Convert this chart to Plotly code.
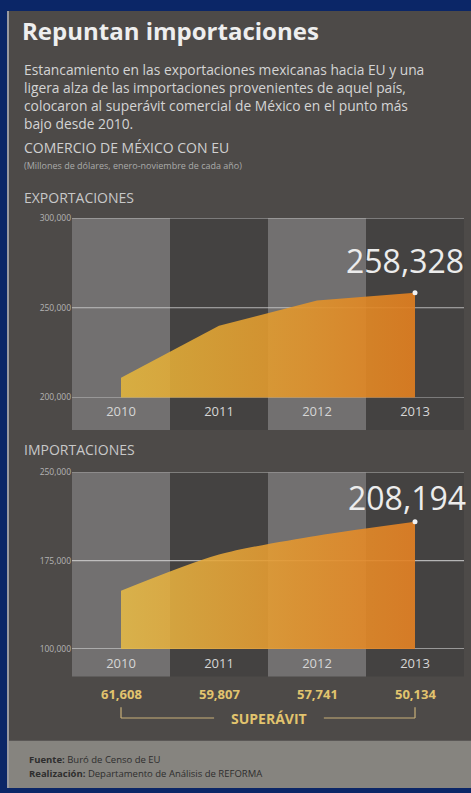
import plotly.graph_objects as go

W, H = 471, 793

years = ["2010", "2011", "2012", "2013"]
exportaciones = [211000, 240000, 254000, 258328]
importaciones = [149392, 180193, 196259, 208194]
superavit = [61608, 59807, 57741, 50134]
exp_ticks = [200000, 250000, 300000]
imp_ticks = [100000, 175000, 250000]

title = "Repuntan importaciones"
body = [
    "Estancamiento en las exportaciones mexicanas hacia EU y una",
    "ligera alza de las importaciones provenientes de aquel país,",
    "colocaron al superávit comercial de México en el punto más",
    "bajo desde 2010.",
]
subtitle = "COMERCIO DE MÉXICO CON EU"
units = "(Millones de dólares, enero-noviembre de cada año)"


def px(x):
    return x / W


def py(y):
    return 1 - y / H


FONT = "Open Sans"
BG = "#4d4a48"
xs = list(range(len(years)))

fig = go.Figure()

grad_exp = dict(type="horizontal",
                colorscale=[[0, "rgba(228,182,60,0.88)"], [0.6, "rgba(226,150,44,0.9)"],
                            [1, "rgba(224,126,32,0.92)"]])
grad_imp = dict(type="horizontal",
                colorscale=[[0, "rgba(230,186,70,0.88)"], [0.6, "rgba(228,150,46,0.9)"],
                            [1, "rgba(226,128,36,0.92)"]])

fig.add_trace(go.Scatter(x=xs, y=exportaciones, mode="lines", fill="tozeroy",
                         line=dict(width=0, color="rgba(0,0,0,0)"),
                         fillgradient=grad_exp, xaxis="x", yaxis="y",
                         hoverinfo="skip", showlegend=False))
fig.add_trace(go.Scatter(x=[xs[-1]], y=[exportaciones[-1]], mode="markers",
                         marker=dict(size=5, color="#f2f2f2"), xaxis="x", yaxis="y",
                         showlegend=False))
fig.add_trace(go.Scatter(x=xs, y=importaciones, mode="lines", fill="tozeroy",
                         line=dict(width=0, color="rgba(0,0,0,0)", shape="spline", smoothing=0.8),
                         fillgradient=grad_imp, xaxis="x2", yaxis="y2",
                         hoverinfo="skip", showlegend=False))
fig.add_trace(go.Scatter(x=[xs[-1]], y=[importaciones[-1]], mode="markers",
                         marker=dict(size=5, color="#f2f2f2"), xaxis="x2", yaxis="y2",
                         showlegend=False))

shapes = []
# blue frame and panel
shapes.append(dict(type="rect", xref="paper", yref="paper", x0=px(9), x1=1, y0=0, y1=py(5),
                   fillcolor=BG, line=dict(width=0), layer="below"))
shapes.append(dict(type="rect", xref="paper", yref="paper", x0=px(7), x1=px(9), y0=0, y1=py(5),
                   fillcolor="#9a9aa0", line=dict(width=0), layer="below"))
# footer
shapes.append(dict(type="rect", xref="paper", yref="paper", x0=px(9), x1=1, y0=0, y1=py(745),
                   fillcolor="#86847f", line=dict(width=0), layer="below"))

# bands
for i in xs:
    col = "#727070" if i % 2 == 0 else "#444241"
    shapes.append(dict(type="rect", xref="x", yref="paper", x0=i - 0.5, x1=i + 0.5,
                       y0=py(430), y1=py(215), fillcolor=col, line=dict(width=0), layer="below"))
    shapes.append(dict(type="rect", xref="x2", yref="paper", x0=i - 0.5, x1=i + 0.5,
                       y0=py(680), y1=py(473), fillcolor=col, line=dict(width=0), layer="below"))

# gridlines
GRID = "rgba(210,210,210,0.8)"
for t in exp_ticks:
    shapes.append(dict(type="line", xref="x", yref="y", x0=-0.5, x1=3.5, y0=t, y1=t,
                       line=dict(color=GRID, width=1.2), layer="between"))
for t in imp_ticks:
    shapes.append(dict(type="line", xref="x2", yref="y2", x0=-0.5, x1=3.5, y0=t, y1=t,
                       line=dict(color=GRID, width=1.2), layer="between"))

# superavit bracket
BR = "#c9b078"
yb, yt = py(722), py(711)
shapes += [
    dict(type="line", xref="x2", yref="paper", x0=0, x1=0.95, y0=yb, y1=yb, line=dict(color=BR, width=1.2)),
    dict(type="line", xref="x2", yref="paper", x0=2.07, x1=3, y0=yb, y1=yb, line=dict(color=BR, width=1.2)),
    dict(type="line", xref="x2", yref="paper", x0=0, x1=0, y0=yb, y1=yt, line=dict(color=BR, width=1.2)),
    dict(type="line", xref="x2", yref="paper", x0=3, x1=3, y0=yb, y1=yt, line=dict(color=BR, width=1.2)),
]

ann = []


def txt(text, x, y, size, color, anchor="left", xref="paper", yanchor="middle"):
    ann.append(dict(text=text, x=x, y=y, xref=xref, yref="paper", xanchor=anchor,
                    yanchor=yanchor, showarrow=False, align="left",
                    font=dict(family=FONT, size=size, color=color)))


txt(f"<b>{title}</b>", px(20), py(25), 24, "#eeeeee")
txt("<br>".join(body), px(22), py(53), 13.8, "#d4d4d4", yanchor="top")
txt(subtitle, px(22), py(143), 14, "#d0d0d0")
txt(units, px(22), py(162), 9, "#aaaaaa")
txt("EXPORTACIONES", px(22), py(194), 14, "#c8c8c8")
txt("IMPORTACIONES", px(22), py(450), 14, "#c8c8c8")
txt(f"{exportaciones[-1]:,}", px(466), py(258), 32, "#ececec", anchor="right")
txt(f"{importaciones[-1]:,}", px(468), py(498), 32, "#ececec", anchor="right")
for i, v in enumerate(superavit):
    txt(f"<b>{v:,}</b>", i, py(698), 13, "#e2c46e", anchor="center", xref="x2")
txt("<b>SUPERÁVIT</b>", 1.51, py(723), 14, "#e2c46e", anchor="center", xref="x2")
txt("<b>Fuente:</b> Buró de Censo de EU", px(27), py(764), 9.5, "#2e2e2e")
txt("<b>Realización:</b> Departamento de Análisis de REFORMA", px(27), py(778), 9.5, "#2e2e2e")

xaxis_common = dict(range=[-0.5, 3.5], tickvals=xs, ticktext=years, showgrid=False, zeroline=False,
                    showline=False, ticks="outside", ticklen=2, tickcolor="rgba(0,0,0,0)",
                    tickfont=dict(family=FONT, size=13, color="#d6d6d6"), fixedrange=True,
                    domain=[px(72), px(464)])
yaxis_common = dict(showgrid=False, zeroline=False, showline=False, ticks="",
                    tickfont=dict(family=FONT, size=8.5, color="#b4b4b4"),
                    tickformat=",d", fixedrange=True)

fig.update_layout(
    width=W, height=H, margin=dict(l=0, r=0, t=0, b=0),
    paper_bgcolor="#0b2667", plot_bgcolor="rgba(0,0,0,0)",
    showlegend=False, shapes=shapes, annotations=ann,
    xaxis=dict(anchor="y", **xaxis_common),
    yaxis=dict(anchor="x", range=[exp_ticks[0], exp_ticks[-1]], tickvals=exp_ticks,
               domain=[py(397), py(215)], **yaxis_common),
    xaxis2=dict(anchor="y2", **xaxis_common),
    yaxis2=dict(anchor="x2", range=[imp_ticks[0], imp_ticks[-1]], tickvals=imp_ticks,
                domain=[py(652), py(473)], **yaxis_common),
)

fig.write_html("out.html", config={"displayModeBar": False},
               post_script="document.body.style.margin='0';document.body.style.overflow='hidden';")
